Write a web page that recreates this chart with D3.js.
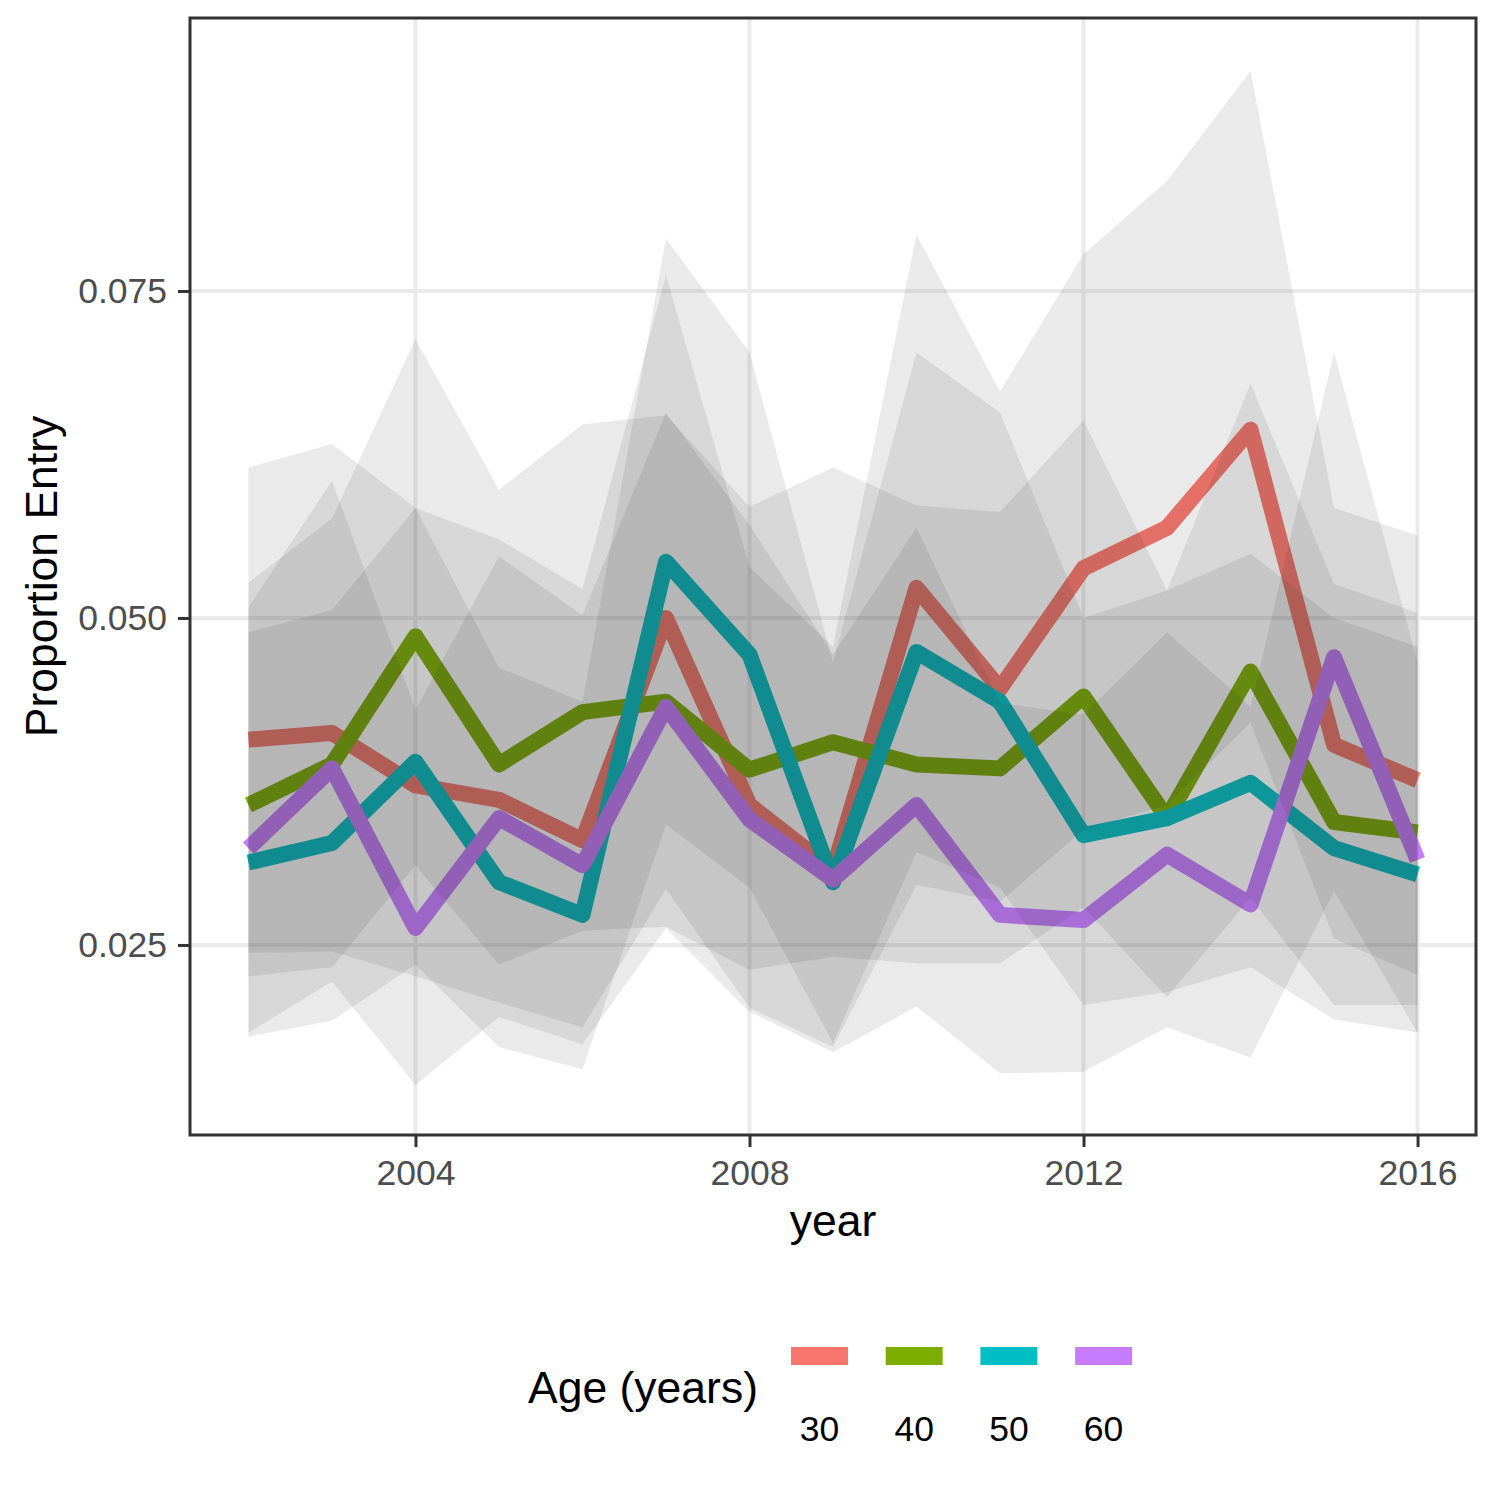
<!DOCTYPE html>
<html>
<head>
<meta charset="utf-8">
<script src="https://cdn.jsdelivr.net/npm/d3@7"></script>
<style>
  body { margin: 0; background: #fff; }
  text { font-family: "Liberation Sans", Arial, Helvetica, sans-serif; }
</style>
</head>
<body>
<div id="chart"></div>
<script>
/** DATA */
const years = [2002, 2003, 2004, 2005, 2006, 2007, 2008, 2009, 2010, 2011, 2012, 2013, 2014, 2015, 2016];
const ageGroups = ["30", "40", "50", "60"];
const xTicks = [2004, 2008, 2012, 2016];
const yTicks = [0.025, 0.050, 0.075];

// age 30
const mean30  = [0.0407, 0.0412, 0.0372, 0.0361, 0.0330, 0.0500, 0.0357, 0.0307, 0.0523, 0.0446, 0.0538, 0.0569, 0.0644, 0.0403, 0.0376];
const upper30 = [0.0615, 0.0633, 0.0584, 0.0560, 0.0522, 0.0762, 0.0539, 0.0478, 0.0793, 0.0673, 0.0778, 0.0834, 0.0918, 0.0584, 0.0563];
const lower30 = [0.0244, 0.0245, 0.0226, 0.0206, 0.0187, 0.0293, 0.0202, 0.0172, 0.0296, 0.0283, 0.0338, 0.0357, 0.0420, 0.0255, 0.0227];
// age 40
const mean40  = [0.0357, 0.0388, 0.0486, 0.0388, 0.0428, 0.0436, 0.0384, 0.0405, 0.0388, 0.0385, 0.0440, 0.0347, 0.0459, 0.0344, 0.0336];
const upper40 = [0.0527, 0.0576, 0.0713, 0.0598, 0.0648, 0.0655, 0.0585, 0.0615, 0.0586, 0.0581, 0.0651, 0.0521, 0.0679, 0.0526, 0.0504];
const lower40 = [0.0226, 0.0233, 0.0311, 0.0235, 0.0261, 0.0264, 0.0231, 0.0241, 0.0236, 0.0236, 0.0279, 0.0210, 0.0286, 0.0204, 0.0204];
// age 50
const mean50  = [0.0313, 0.0328, 0.0390, 0.0298, 0.0273, 0.0543, 0.0472, 0.0298, 0.0474, 0.0436, 0.0334, 0.0347, 0.0374, 0.0324, 0.0304];
const upper50 = [0.0489, 0.0506, 0.0584, 0.0462, 0.0436, 0.0790, 0.0703, 0.0466, 0.0703, 0.0657, 0.0500, 0.0521, 0.0549, 0.0500, 0.0478];
const lower50 = [0.0180, 0.0192, 0.0235, 0.0172, 0.0155, 0.0342, 0.0294, 0.0175, 0.0321, 0.0294, 0.0204, 0.0214, 0.0233, 0.0193, 0.0183];
// age 60
const mean60  = [0.0324, 0.0385, 0.0263, 0.0347, 0.0311, 0.0432, 0.0346, 0.0300, 0.0357, 0.0273, 0.0269, 0.0319, 0.0281, 0.0470, 0.0315];
const upper60 = [0.0508, 0.0605, 0.0430, 0.0547, 0.0502, 0.0657, 0.0571, 0.0472, 0.0569, 0.0435, 0.0426, 0.0489, 0.0432, 0.0703, 0.0466];
const lower60 = [0.0183, 0.0222, 0.0143, 0.0195, 0.0174, 0.0263, 0.0199, 0.0168, 0.0203, 0.0152, 0.0153, 0.0187, 0.0164, 0.0291, 0.0183];

/** CONSTANTS */
const width = 1500,
  height = 1500,
  panel = { left: 190, right: 1476, top: 18, bottom: 1135 },
  colors = ["#F8766D", "#7CAE00", "#00BFC4", "#C77CFF"],
  lineWidth = 16,
  inkDark = "#333333",
  tickText = "#4d4d4d";

const means = [mean30, mean40, mean50, mean60];
const uppers = [upper30, upper40, upper50, upper60];
const lowers = [lower30, lower40, lower50, lower60];

// one row per year for each age group
const series = ageGroups.map((g, i) => ({
  group: g,
  color: colors[i],
  values: years.map((yr, j) => ({
    year: yr,
    mean: means[i][j],
    lo: lowers[i][j],
    hi: uppers[i][j]
  }))
}));

/** SCALES */
const xScale = d3.scaleLinear()
  .domain([2001.3, 2016.7])
  .range([panel.left, panel.right]);

const yScale = d3.scaleLinear()
  .domain([0.01047, 0.09587])
  .range([panel.bottom, panel.top]);

/** MAIN CODE */
const svg = d3.select("#chart")
  .append("svg")
  .attr("width", width)
  .attr("height", height);

svg.append("rect")
  .attr("width", width)
  .attr("height", height)
  .attr("fill", "#fff");

svg.append("clipPath")
  .attr("id", "panel-clip")
  .append("rect")
  .attr("x", panel.left)
  .attr("y", panel.top)
  .attr("width", panel.right - panel.left)
  .attr("height", panel.bottom - panel.top);

// grid
const grid = svg.append("g").attr("class", "grid");
grid.selectAll("line.gx")
  .data(xTicks)
  .join("line")
  .attr("class", "gx")
  .attr("x1", d => xScale(d))
  .attr("x2", d => xScale(d))
  .attr("y1", panel.top)
  .attr("y2", panel.bottom)
  .attr("stroke", "#ebebeb")
  .attr("stroke-width", 4);
grid.selectAll("line.gy")
  .data(yTicks)
  .join("line")
  .attr("class", "gy")
  .attr("x1", panel.left)
  .attr("x2", panel.right)
  .attr("y1", d => yScale(d))
  .attr("y2", d => yScale(d))
  .attr("stroke", "#ebebeb")
  .attr("stroke-width", 4);

const plot = svg.append("g").attr("clip-path", "url(#panel-clip)");

// lines first, the ribbons sit on top of them
const line = d3.line()
  .x(d => xScale(d.year))
  .y(d => yScale(d.mean));

plot.selectAll("path.trend")
  .data(series)
  .join("path")
  .attr("class", "trend")
  .attr("d", d => line(d.values))
  .attr("fill", "none")
  .attr("stroke", d => d.color)
  .attr("stroke-width", lineWidth)
  .attr("stroke-linejoin", "round")
  .attr("stroke-linecap", "butt");

const area = d3.area()
  .x(d => xScale(d.year))
  .y0(d => yScale(d.lo))
  .y1(d => yScale(d.hi));

plot.selectAll("path.band")
  .data(series)
  .join("path")
  .attr("class", "band")
  .attr("d", d => area(d.values))
  .attr("fill", "#333333")
  .attr("fill-opacity", 0.1);

// panel border
svg.append("rect")
  .attr("x", panel.left)
  .attr("y", panel.top)
  .attr("width", panel.right - panel.left)
  .attr("height", panel.bottom - panel.top)
  .attr("fill", "none")
  .attr("stroke", inkDark)
  .attr("stroke-width", 3);

// AXES
const xAxis = d3.axisBottom(xScale)
  .tickValues(xTicks)
  .tickFormat(d3.format("d"))
  .tickSize(12)
  .tickPadding(13);

const yAxis = d3.axisLeft(yScale)
  .tickValues(yTicks)
  .tickFormat(d3.format(".3f"))
  .tickSize(12)
  .tickPadding(11);

const gx = svg.append("g")
  .attr("transform", `translate(0, ${panel.bottom})`)
  .call(xAxis);
const gy = svg.append("g")
  .attr("transform", `translate(${panel.left}, 0)`)
  .call(yAxis);

[gx, gy].forEach(g => {
  g.select(".domain").remove();
  g.selectAll(".tick line").attr("stroke", inkDark).attr("stroke-width", 3);
  g.selectAll(".tick text")
    .attr("fill", tickText)
    .style("font-size", "35.5px");
});

// axis titles
svg.append("text")
  .attr("x", (panel.left + panel.right) / 2)
  .attr("y", 1236)
  .attr("text-anchor", "middle")
  .style("font-size", "44.5px")
  .text("year");

svg.append("text")
  .attr("transform", `translate(57, ${(panel.top + panel.bottom) / 2}) rotate(-90)`)
  .attr("text-anchor", "middle")
  .style("font-size", "44.5px")
  .text("Proportion Entry");

// LEGEND
const legend = svg.append("g").attr("class", "legend");

legend.append("text")
  .attr("x", 528)
  .attr("y", 1403)
  .style("font-size", "44.5px")
  .text("Age (years)");

const keys = legend.selectAll("g.key")
  .data(series)
  .join("g")
  .attr("class", "key")
  .attr("transform", (d, i) => `translate(${791 + i * 94.7}, 0)`);

keys.append("line")
  .attr("x1", 0)
  .attr("x2", 57)
  .attr("y1", 1356)
  .attr("y2", 1356)
  .attr("stroke", d => d.color)
  .attr("stroke-width", 18);

keys.append("text")
  .attr("x", 28.5)
  .attr("y", 1441)
  .attr("text-anchor", "middle")
  .style("font-size", "35.5px")
  .text(d => d.group);
</script>
</body>
</html>
